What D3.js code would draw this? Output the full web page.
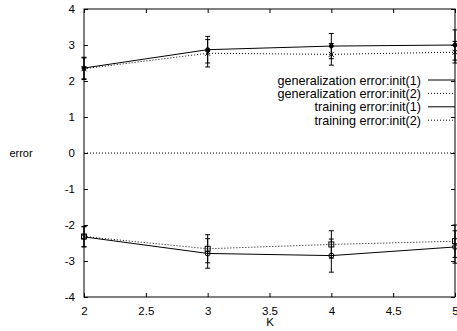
<!DOCTYPE html>
<html><head><meta charset="utf-8">
<script src="https://cdn.jsdelivr.net/npm/d3@7"></script>
<style>body{margin:0;background:#fff}svg{display:block}text{font-family:"Liberation Sans",Arial,sans-serif;fill:#000}</style>
</head><body><svg id="c" width="457" height="331"></svg>
<script>
const K = [2, 3, 4, 5];
const genInit1 = [2.36, 2.87, 2.97, 3.00];
const genInit1Err = [0.30, 0.37, 0.35, 0.42];
const genInit2 = [2.34, 2.77, 2.74, 2.80];
const genInit2Err = [0.30, 0.38, 0.30, 0.30];
const trainInit1 = [-2.33, -2.79, -2.85, -2.61];
const trainInit1Err = [0.28, 0.41, 0.46, 0.45];
const trainInit2 = [-2.32, -2.66, -2.54, -2.45];
const trainInit2Err = [0.28, 0.39, 0.38, 0.45];
const xTicks = [2, 2.5, 3, 3.5, 4, 4.5, 5];
const yTicks = [-4, -3, -2, -1, 0, 1, 2, 3, 4];
const legendLabels = ["generalization error:init(1)", "generalization error:init(2)", "training error:init(1)", "training error:init(2)"];

const svg = d3.select("#c");
const L = 84, R = 455, T = 9, B = 297;
const x = d3.scaleLinear().domain([2, 5]).range([L, R]);
const y = d3.scaleLinear().domain([-4, 4]).range([B, T]);

// zero line
svg.append("line").attr("x1", L).attr("x2", R).attr("y1", y(0)).attr("y2", y(0))
  .attr("stroke", "#000").attr("stroke-width", 1).attr("stroke-dasharray", "1,2");

const series = [
  {v: genInit1, e: genInit1Err, dash: null, marker: "dot"},
  {v: genInit2, e: genInit2Err, dash: "1,2", marker: "x"},
  {v: trainInit1, e: trainInit1Err, dash: null, marker: "circle"},
  {v: trainInit2, e: trainInit2Err, dash: "1,2", marker: "square"}
];
const line = d3.line().x((d, i) => x(K[i])).y(d => y(d));
series.forEach(s => {
  svg.append("path").attr("d", line(s.v)).attr("fill", "none").attr("stroke", "#000")
    .attr("stroke-width", 1).attr("stroke-dasharray", s.dash);
  const g = svg.append("g").attr("stroke", "#000").attr("stroke-width", 1).attr("fill", "none");
  s.v.forEach((v, i) => {
    const cx = x(K[i]), lo = y(v - s.e[i]), hi = y(v + s.e[i]);
    g.append("line").attr("x1", cx).attr("x2", cx).attr("y1", lo).attr("y2", hi);
    g.append("line").attr("x1", cx - 2.5).attr("x2", cx + 2.5).attr("y1", lo).attr("y2", lo);
    g.append("line").attr("x1", cx - 2.5).attr("x2", cx + 2.5).attr("y1", hi).attr("y2", hi);
    const cy = y(v);
    if (s.marker === "dot") g.append("circle").attr("cx", cx).attr("cy", cy).attr("r", 2).attr("fill", "#000");
    else if (s.marker === "x") g.append("path").attr("d", `M${cx-2.5},${cy-2.5}L${cx+2.5},${cy+2.5}M${cx-2.5},${cy+2.5}L${cx+2.5},${cy-2.5}`);
    else if (s.marker === "circle") g.append("circle").attr("cx", cx).attr("cy", cy).attr("r", 2.5);
    else g.append("rect").attr("x", cx - 2.5).attr("y", cy - 2.5).attr("width", 5).attr("height", 5);
  });
});

// frame
svg.append("rect").attr("x", L).attr("y", T).attr("width", R - L).attr("height", B - T)
  .attr("fill", "none").attr("stroke", "#000").attr("stroke-width", 1);

// axes (ticks inward, mirrored)
const fmt = d => String(d);
const ax = [
  d3.axisBottom(x).tickValues(xTicks).tickSize(-4).tickPadding(10).tickFormat(fmt),
  d3.axisTop(x).tickValues(xTicks).tickSize(-4).tickFormat(""),
  d3.axisLeft(y).tickValues(yTicks).tickSize(-4).tickPadding(9).tickFormat(fmt),
  d3.axisRight(y).tickValues(yTicks).tickSize(-4).tickFormat("")
];
const pos = [`translate(0,${B})`, `translate(0,${T})`, `translate(${L},0)`, `translate(${R},0)`];
ax.forEach((a, i) => {
  const g = svg.append("g").attr("transform", pos[i]).call(a);
  g.select(".domain").remove();
  g.selectAll("text").style("font-family", '"Liberation Sans",Arial,sans-serif').style("font-size", "11.5px").attr("fill", "#000");
  g.selectAll("line").attr("stroke", "#000");
});

// axis labels
svg.append("text").attr("x", 21).attr("y", 157).attr("text-anchor", "middle").style("font-size", "11px").text("error");
svg.append("text").attr("x", 270).attr("y", 326).attr("text-anchor", "middle").style("font-size", "11.5px").text("K");

// legend
legendLabels.forEach((lab, i) => {
  const ly = 80 + i * 13.4;
  svg.append("text").attr("x", 421).attr("y", ly + 4.5).attr("text-anchor", "end").style("font-size", "12.6px").text(lab);
  svg.append("line").attr("x1", 428).attr("x2", 455).attr("y1", ly).attr("y2", ly)
    .attr("stroke", "#000").attr("stroke-dasharray", series[i].dash);
});
</script></body></html>
